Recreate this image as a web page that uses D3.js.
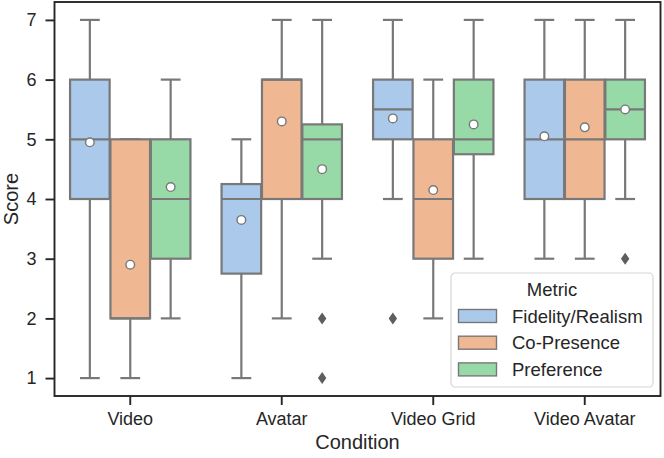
<!DOCTYPE html>
<html>
<head>
<meta charset="utf-8">
<script src="https://cdn.jsdelivr.net/npm/d3@7"></script>
<style>
  body { margin: 0; background: #fff; }
  text { font-family: "Liberation Sans", Arial, sans-serif; fill: #262626; }
</style>
</head>
<body>
<script>
// categories and series
var conditions = ["Video", "Avatar", "Video Grid", "Video Avatar"];
var metrics = ["Fidelity/Realism", "Co-Presence", "Preference"];
var yTicks = [1, 2, 3, 4, 5, 6, 7];

// box stats, one row per metric, one value per condition
var q1 = [[4, 2.75, 5, 4], [2, 4, 3, 4], [3, 4, 4.75, 5]];
var medians = [[5, 4, 5.5, 5], [2, 6, 4, 5], [4, 5, 5, 5.5]];
var q3 = [[6, 4.25, 6, 6], [5, 6, 5, 6], [5, 5.25, 6, 6]];
var whiskerLow = [[1, 1, 4, 3], [1, 2, 2, 3], [2, 3, 3, 4]];
var whiskerHigh = [[7, 5, 7, 7], [5, 7, 6, 7], [6, 7, 7, 7]];
var means = [[4.95, 3.65, 5.35, 5.05], [2.9, 5.3, 4.15, 5.2], [4.2, 4.5, 5.25, 5.5]];
// outliers: [metric index, condition index, value]
var outliers = [[2, 1, 2], [2, 1, 1], [0, 2, 2], [2, 3, 3]];

var colors = ["#abc9ea", "#efb792", "#98daa7"];
var lineColor = "#787878";

var W = 664, H = 458;
var plotLeft = 54.5, plotRight = 660.5, plotTop = 2, plotBottom = 396;

var svg = d3.select("body").append("svg")
    .attr("width", W)
    .attr("height", H);

var x = d3.scaleBand().domain(conditions).range([plotLeft, plotRight]).padding(0);
var bw = x.bandwidth();
var dodge = d3.scaleBand().domain(metrics).range([bw * 0.1, bw * 0.9]).padding(0);
var boxW = dodge.bandwidth() * 0.98;
var y = d3.scaleLinear().domain([0.7, 7.3]).range([plotBottom, plotTop]);

var plot = svg.append("g");

// build one record per box
var boxes = [];
metrics.forEach(function(m, mi) {
    conditions.forEach(function(c, ci) {
        boxes.push({
            m: mi, c: ci,
            cx: x(c) + dodge(m) + dodge.bandwidth() / 2,
            q1: q1[mi][ci], med: medians[mi][ci], q3: q3[mi][ci],
            lo: whiskerLow[mi][ci], hi: whiskerHigh[mi][ci], mean: means[mi][ci]
        });
    });
});

var g = plot.selectAll("g.box").data(boxes).enter().append("g").attr("class", "box");

// whiskers
g.append("line")
    .attr("x1", function(d) { return d.cx; }).attr("x2", function(d) { return d.cx; })
    .attr("y1", function(d) { return y(d.q3); }).attr("y2", function(d) { return y(d.hi); })
    .attr("stroke", lineColor).attr("stroke-width", 2.2);
g.append("line")
    .attr("x1", function(d) { return d.cx; }).attr("x2", function(d) { return d.cx; })
    .attr("y1", function(d) { return y(d.q1); }).attr("y2", function(d) { return y(d.lo); })
    .attr("stroke", lineColor).attr("stroke-width", 2.2);
// caps
["hi", "lo"].forEach(function(k) {
    g.append("line")
        .attr("x1", function(d) { return d.cx - boxW / 4; })
        .attr("x2", function(d) { return d.cx + boxW / 4; })
        .attr("y1", function(d) { return y(d[k]); })
        .attr("y2", function(d) { return y(d[k]); })
        .attr("stroke", lineColor).attr("stroke-width", 2.2);
});

// boxes
g.append("rect")
    .attr("x", function(d) { return d.cx - boxW / 2; })
    .attr("width", boxW)
    .attr("y", function(d) { return y(d.q3); })
    .attr("height", function(d) { return y(d.q1) - y(d.q3); })
    .attr("fill", function(d) { return colors[d.m]; })
    .attr("stroke", lineColor).attr("stroke-width", 2.2);

// medians
g.append("line")
    .attr("x1", function(d) { return d.cx - boxW / 2; })
    .attr("x2", function(d) { return d.cx + boxW / 2; })
    .attr("y1", function(d) { return y(d.med); })
    .attr("y2", function(d) { return y(d.med); })
    .attr("stroke", lineColor).attr("stroke-width", 2.2);

// means
g.append("circle")
    .attr("cx", function(d) { return d.cx; })
    .attr("cy", function(d) { return y(d.mean); })
    .attr("r", 4.3)
    .attr("fill", "#fff")
    .attr("stroke", lineColor).attr("stroke-width", 1.4);

// outliers as diamonds
plot.selectAll("path.flier").data(outliers).enter().append("path")
    .attr("class", "flier")
    .attr("d", function(d) {
        var cx = x(conditions[d[1]]) + dodge(metrics[d[0]]) + dodge.bandwidth() / 2;
        var cy = y(d[2]);
        return "M" + cx + "," + (cy - 6) + "L" + (cx + 4.2) + "," + cy +
            "L" + cx + "," + (cy + 6) + "L" + (cx - 4.2) + "," + cy + "Z";
    })
    .attr("fill", "#5e5e5e");

// axes
var yAxis = svg.append("g")
    .attr("transform", "translate(" + plotLeft + ",0)")
    .call(d3.axisLeft(y).tickValues(yTicks).tickFormat(d3.format("d"))
        .tickSize(9).tickPadding(9).tickSizeOuter(0));
var xAxis = svg.append("g")
    .attr("transform", "translate(0," + plotBottom + ")")
    .call(d3.axisBottom(x).tickSize(9).tickPadding(7).tickSizeOuter(0));
[yAxis, xAxis].forEach(function(a) {
    a.select(".domain").remove();
    a.selectAll(".tick line").attr("stroke", "#262626").attr("stroke-width", 1.9);
    a.selectAll(".tick text").attr("font-size", 18).attr("fill", "#262626")
        .style("font-family", "'Liberation Sans', Arial, sans-serif");
});

// frame
svg.append("rect")
    .attr("x", plotLeft).attr("y", plotTop)
    .attr("width", plotRight - plotLeft).attr("height", plotBottom - plotTop)
    .attr("fill", "none").attr("stroke", "#262626").attr("stroke-width", 1.9);

// axis labels
svg.append("text")
    .attr("x", (plotLeft + plotRight) / 2).attr("y", 449)
    .attr("text-anchor", "middle").attr("font-size", 20)
    .text("Condition");
svg.append("text")
    .attr("transform", "translate(18," + (plotTop + plotBottom) / 2 + ") rotate(-90)")
    .attr("text-anchor", "middle").attr("font-size", 20)
    .text("Score");

// legend
var lg = svg.append("g").attr("transform", "translate(451,273)");
lg.append("rect")
    .attr("width", 202).attr("height", 114).attr("rx", 4)
    .attr("fill", "#fff").attr("fill-opacity", 0.8)
    .attr("stroke", "#d6d6d6").attr("stroke-width", 1.2);
lg.append("text")
    .attr("x", 101).attr("y", 23)
    .attr("text-anchor", "middle").attr("font-size", 18.5)
    .text("Metric");
var items = lg.selectAll("g.item").data(metrics).enter().append("g")
    .attr("class", "item")
    .attr("transform", function(d, i) { return "translate(0," + (43 + i * 26.7) + ")"; });
items.append("rect")
    .attr("x", 7.5).attr("y", -6.5).attr("width", 38).attr("height", 13)
    .attr("fill", function(d, i) { return colors[i]; })
    .attr("stroke", lineColor).attr("stroke-width", 1.4);
items.append("text")
    .attr("x", 61).attr("y", 6.5)
    .attr("font-size", 18.5)
    .text(function(d) { return d; });
</script>
</body>
</html>
